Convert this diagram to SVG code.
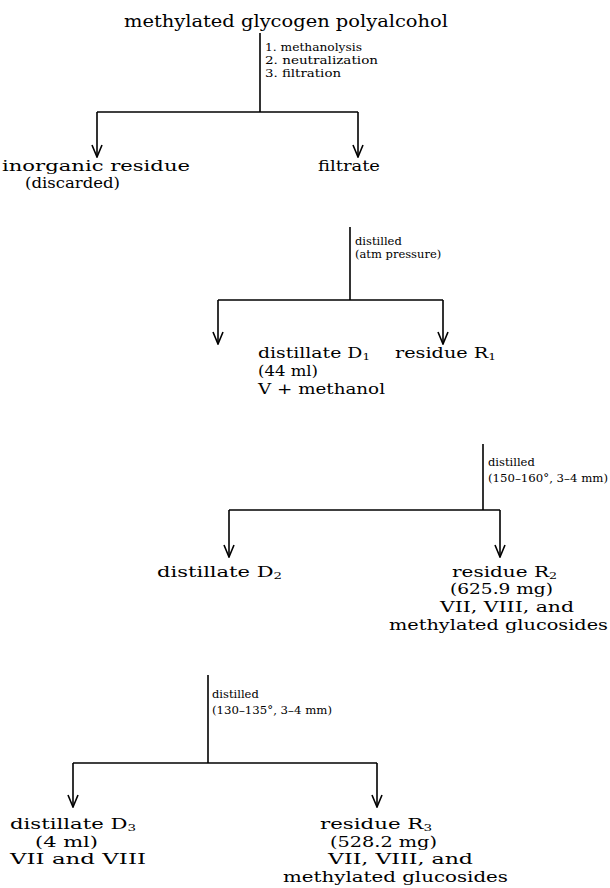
<svg xmlns="http://www.w3.org/2000/svg" width="610" height="888" viewBox="0 0 610 888">
<style>
.t{font-family:"DejaVu Serif","Liberation Serif",serif;font-size:15px;fill:#000}
.s{font-family:"DejaVu Serif","Liberation Serif",serif;font-size:11.5px;fill:#000}
.sub{font-size:9.5px}
.ln{stroke:#000;stroke-width:1.6;fill:none}
.ar{stroke:#000;stroke-width:1.6;fill:none;marker-end:url(#arr)}
</style>
<defs>
<marker id="arr" viewBox="0 0 14 12" refX="13" refY="6" markerWidth="14" markerHeight="12" markerUnits="userSpaceOnUse" orient="auto">
<path d="M1,1 L13,6 L1,11" fill="none" stroke="#000" stroke-width="1.6" stroke-linejoin="miter"/>
</marker>
</defs>
<rect width="610" height="888" fill="#fff"/>
<g id="connectors">
<line class="ln" x1="260" y1="33" x2="260" y2="112"/>
<path class="ln" d="M97,112 H358"/>
<line class="ar" x1="97" y1="112" x2="97" y2="157"/>
<line class="ar" x1="358" y1="112" x2="358" y2="157"/>
<line class="ln" x1="350" y1="227" x2="350" y2="300"/>
<path class="ln" d="M218,300 H443"/>
<line class="ar" x1="218" y1="300" x2="218" y2="344"/>
<line class="ar" x1="443" y1="300" x2="443" y2="344"/>
<line class="ln" x1="483" y1="444" x2="483" y2="510"/>
<path class="ln" d="M229,510 H500"/>
<line class="ar" x1="229" y1="510" x2="229" y2="557"/>
<line class="ar" x1="500" y1="510" x2="500" y2="557"/>
<line class="ln" x1="208" y1="675" x2="208" y2="763"/>
<path class="ln" d="M73,763 H377"/>
<line class="ar" x1="73" y1="763" x2="73" y2="807"/>
<line class="ar" x1="377" y1="763" x2="377" y2="807"/>
</g>
<g id="n-start"><text class="t" x="124" y="27" textLength="324" lengthAdjust="spacingAndGlyphs" style="font-size:16px">methylated glycogen polyalcohol</text></g>
<g id="l-step1">
<text class="s" x="265" y="51" textLength="97" lengthAdjust="spacingAndGlyphs">1. methanolysis</text>
<text class="s" x="265" y="64" textLength="113" lengthAdjust="spacingAndGlyphs">2. neutralization</text>
<text class="s" x="265" y="77" textLength="76" lengthAdjust="spacingAndGlyphs">3. filtration</text>
</g>
<g id="n-inorganic">
<text class="t" x="2" y="171" textLength="188" lengthAdjust="spacingAndGlyphs">inorganic residue</text>
<text class="t" x="25" y="188" textLength="95" lengthAdjust="spacingAndGlyphs">(discarded)</text>
</g>
<g id="n-filtrate"><text class="t" x="318" y="171" textLength="62" lengthAdjust="spacingAndGlyphs">filtrate</text></g>
<g id="l-step2">
<text class="s" x="355" y="245">distilled</text>
<text class="s" x="355" y="258">(atm pressure)</text>
</g>
<g id="n-d1">
<text class="t" x="258" y="358" textLength="112" lengthAdjust="spacingAndGlyphs">distillate  D<tspan class="sub" dy="2">1</tspan></text>
<text class="t" x="258" y="376" textLength="60" lengthAdjust="spacingAndGlyphs">(44 ml)</text>
<text class="t" x="258" y="394" textLength="127" lengthAdjust="spacingAndGlyphs">V + methanol</text>
</g>
<g id="n-r1"><text class="t" x="395" y="358" textLength="101" lengthAdjust="spacingAndGlyphs">residue  R<tspan class="sub" dy="2">1</tspan></text></g>
<g id="l-step3">
<text class="s" x="488" y="466">distilled</text>
<text class="s" x="488" y="482" textLength="120" lengthAdjust="spacingAndGlyphs">(150–160°, 3–4 mm)</text>
</g>
<g id="n-d2"><text class="t" x="157" y="577" textLength="125" lengthAdjust="spacingAndGlyphs">distillate  D<tspan class="sub" dy="2">2</tspan></text></g>
<g id="n-r2">
<text class="t" x="452" y="577" textLength="105" lengthAdjust="spacingAndGlyphs">residue  R<tspan class="sub" dy="2">2</tspan></text>
<text class="t" x="450" y="594" textLength="103" lengthAdjust="spacingAndGlyphs">(625.9 mg)</text>
<text class="t" x="440" y="612" textLength="134" lengthAdjust="spacingAndGlyphs">VII, VIII, and</text>
<text class="t" x="389" y="630" textLength="219" lengthAdjust="spacingAndGlyphs">methylated glucosides</text>
</g>
<g id="l-step4">
<text class="s" x="212" y="698">distilled</text>
<text class="s" x="212" y="714" textLength="120" lengthAdjust="spacingAndGlyphs">(130–135°, 3–4 mm)</text>
</g>
<g id="n-d3">
<text class="t" x="10" y="829" textLength="126" lengthAdjust="spacingAndGlyphs">distillate  D<tspan class="sub" dy="2">3</tspan></text>
<text class="t" x="35" y="847" textLength="63" lengthAdjust="spacingAndGlyphs">(4 ml)</text>
<text class="t" x="10" y="864" textLength="136" lengthAdjust="spacingAndGlyphs">VII and VIII</text>
</g>
<g id="n-r3">
<text class="t" x="320" y="829" textLength="112" lengthAdjust="spacingAndGlyphs">residue  R<tspan class="sub" dy="2">3</tspan></text>
<text class="t" x="330" y="847" textLength="107" lengthAdjust="spacingAndGlyphs">(528.2 mg)</text>
<text class="t" x="328" y="864" textLength="145" lengthAdjust="spacingAndGlyphs">VII, VIII, and</text>
<text class="t" x="283" y="882" textLength="225" lengthAdjust="spacingAndGlyphs">methylated glucosides</text>
</g>
</svg>
